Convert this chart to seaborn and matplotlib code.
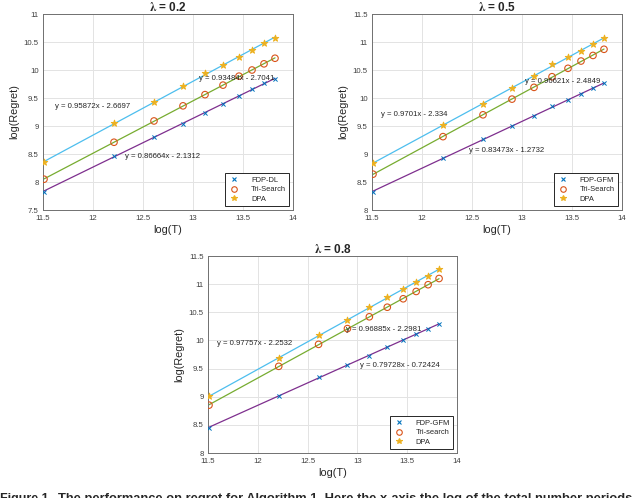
import matplotlib
matplotlib.use("Agg")
import matplotlib.pyplot as plt
import seaborn as sns
import pandas as pd

# ---------------- data ----------------
log_T = [11.51, 12.21, 12.61, 12.90, 13.12, 13.30, 13.46, 13.59, 13.71, 13.82]

# lambda = 0.2
p1_fdp = [7.83, 8.46, 8.81, 9.04, 9.24, 9.40, 9.53, 9.66, 9.76, 9.84]
p1_tri = [8.05, 8.71, 9.09, 9.36, 9.56, 9.73, 9.89, 10.00, 10.11, 10.21]
p1_dpa = [8.35, 9.05, 9.42, 9.71, 9.94, 10.09, 10.24, 10.35, 10.49, 10.57]
p1_names = ["FDP-DL", "Tri-Search", "DPA"]
p1_eqs = ["y = 0.86664x - 2.1312", "y = 0.93484x - 2.7041", "y = 0.95872x - 2.6697"]

# lambda = 0.5
p2_fdp = [8.33, 8.92, 9.27, 9.50, 9.68, 9.85, 9.96, 10.07, 10.18, 10.26]
p2_tri = [8.64, 9.31, 9.70, 9.98, 10.19, 10.38, 10.53, 10.66, 10.76, 10.87]
p2_dpa = [8.84, 9.51, 9.90, 10.17, 10.40, 10.60, 10.73, 10.84, 10.96, 11.07]
p2_names = ["FDP-GFM", "Tri-Search", "DPA"]
p2_eqs = ["y = 0.83473x - 1.2732", "y = 0.96621x - 2.4849", "y = 0.9701x - 2.334"]

# lambda = 0.8
p3_fdp = [8.45, 9.01, 9.35, 9.57, 9.73, 9.89, 10.01, 10.11, 10.20, 10.29]
p3_tri = [8.85, 9.54, 9.93, 10.21, 10.42, 10.59, 10.74, 10.87, 10.99, 11.10]
p3_dpa = [9.01, 9.68, 10.09, 10.36, 10.59, 10.77, 10.91, 11.03, 11.15, 11.27]
p3_names = ["FDP-GFM", "Tri-search", "DPA"]
p3_eqs = ["y = 0.79728x - 0.72424", "y = 0.96885x - 2.2981", "y = 0.97757x - 2.2532"]

titles = [r"$\mathbf{\lambda}$ = 0.2", r"$\mathbf{\lambda}$ = 0.5", r"$\mathbf{\lambda}$ = 0.8"]
x_ticks = [11.5, 12, 12.5, 13, 13.5, 14]
y_ticks_1 = [7.5, 8, 8.5, 9, 9.5, 10, 10.5, 11]
y_ticks_23 = [8, 8.5, 9, 9.5, 10, 10.5, 11, 11.5]

# ---------------- style ----------------
sns.set_style("white")
plt.rcParams["font.family"] = ["Liberation Sans", "DejaVu Sans"]
plt.rcParams["mathtext.fontset"] = "stix"

line_colors = ["#7e2f8e", "#77ac30", "#4dbeee"]
mark_colors = ["#0072bd", "#d95319", "#edb120"]
markers = ["x", "o", "*"]
mark_sizes = [9, 22, 24]

fig = plt.figure(figsize=(6.4, 4.98), dpi=100)
ax1 = fig.add_axes([43 / 640, 1 - 210 / 498, 250 / 640, 196 / 498])
ax2 = fig.add_axes([372 / 640, 1 - 210 / 498, 250 / 640, 196 / 498])
ax3 = fig.add_axes([208 / 640, 1 - 453 / 498, 249 / 640, 197 / 498])

panels = [
    (ax1, [p1_fdp, p1_tri, p1_dpa], p1_names, p1_eqs, titles[0], y_ticks_1,
     [(12.32, 8.45), (13.06, 9.84), (11.62, 9.34)]),
    (ax2, [p2_fdp, p2_tri, p2_dpa], p2_names, p2_eqs, titles[1], y_ticks_23,
     [(12.47, 9.07), (13.03, 10.29), (11.59, 9.71)]),
    (ax3, [p3_fdp, p3_tri, p3_dpa], p3_names, p3_eqs, titles[2], y_ticks_23,
     [(13.03, 9.56), (12.89, 10.19), (11.59, 9.94)]),
]

for ax, series, names, eqs, title, yt, eq_pos in panels:
    handles = []
    for i, ys in enumerate(series):
        df = pd.DataFrame({"x": log_T, "y": ys})
        sns.regplot(data=df, x="x", y="y", ax=ax, scatter=False, ci=None,
                    truncate=True, line_kws=dict(color=line_colors[i], lw=0.9, zorder=2))
        if markers[i] == "o":
            sns.scatterplot(data=df, x="x", y="y", ax=ax, marker="o", s=mark_sizes[i],
                            facecolor="none", edgecolor=mark_colors[i], linewidth=0.8,
                            zorder=3)
        else:
            sns.scatterplot(data=df, x="x", y="y", ax=ax, marker=markers[i], s=mark_sizes[i],
                            color=mark_colors[i], edgecolor=mark_colors[i], linewidth=0.7,
                            zorder=3)
        h = plt.Line2D([], [], ls="none", marker=markers[i],
                       markersize=(3 if markers[i] == "x" else 4),
                       markeredgewidth=0.8,
                       markerfacecolor=("none" if markers[i] == "o" else mark_colors[i]),
                       markeredgecolor=mark_colors[i])
        handles.append(h)
        ax.text(eq_pos[i][0], eq_pos[i][1], eqs[i], fontsize=5.6, color="#262626",
                va="center", ha="left", zorder=4)
    ax.set_xlim(11.5, 14)
    ax.set_ylim(yt[0], yt[-1])
    ax.set_xticks(x_ticks)
    ax.set_xticklabels([f"{v:g}" for v in x_ticks])
    ax.set_yticks(yt)
    ax.set_yticklabels([f"{v:g}" for v in yt])
    ax.grid(True, color="#e3e3e3", lw=0.7)
    ax.set_axisbelow(True)
    for sp in ax.spines.values():
        sp.set_color("#707070")
        sp.set_linewidth(0.7)
    ax.tick_params(axis="both", labelsize=5.6, colors="#404040", length=2, width=0.5,
                   direction="in")
    ax.tick_params(axis="x", pad=3.5)
    ax.tick_params(axis="y", pad=3)
    ax.set_xlabel("log(T)", fontsize=7.8, color="#262626", labelpad=2)
    ax.set_ylabel("log(Regret)", fontsize=7.8, color="#262626", labelpad=3)
    ax.set_title(title, fontsize=8.5, fontweight="bold", pad=2.5)
    leg = ax.legend(handles, names, loc="lower right", fontsize=5.4, frameon=True,
                    fancybox=False, edgecolor="#262626", framealpha=1,
                    borderpad=0.45, labelspacing=0.3, handletextpad=1.4,
                    handlelength=1.6, borderaxespad=0.5)
    leg.get_frame().set_linewidth(0.7)

# caption (cut off at the bottom of the image, as in the reference)
fig.text(0.0, 5 / 498, "Figure 1.", fontsize=9, fontweight="bold", va="top", ha="left")
fig.text(58 / 640, 5 / 498,
         "The performance on regret for Algorithm 1. Here the x-axis the log of the total number periods",
         fontsize=9.3, fontweight="bold", va="top", ha="left")

fig.savefig("out.png", dpi=100)
